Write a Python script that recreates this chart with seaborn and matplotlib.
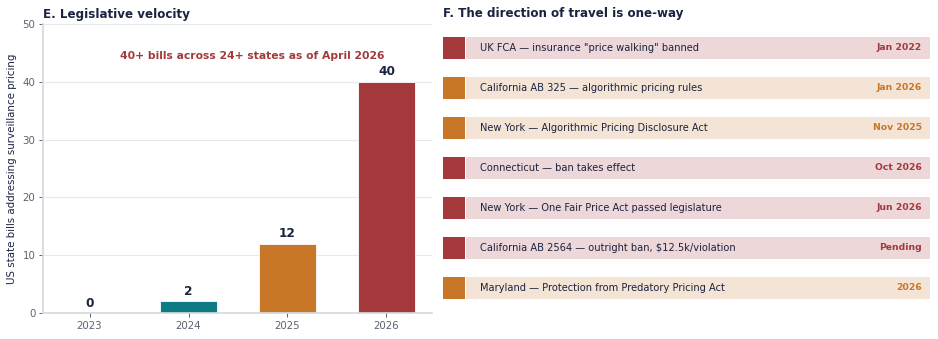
import matplotlib
matplotlib.use("Agg")
import matplotlib.pyplot as plt
import seaborn as sns
import pandas as pd

# ---- data ----
years = ["2023", "2024", "2025", "2026"]
bills = [0, 2, 12, 40]
bar_colors = ["#0E7A84", "#0E7A84", "#C87628", "#A3393A"]

events = [
    'UK FCA — insurance "price walking" banned',
    "California AB 325 — algorithmic pricing rules",
    "New York — Algorithmic Pricing Disclosure Act",
    "Connecticut — ban takes effect",
    "New York — One Fair Price Act passed legislature",
    "California AB 2564 — outright ban, $12.5k/violation",
    "Maryland — Protection from Predatory Pricing Act",
]
dates = ["Jan 2022", "Jan 2026", "Nov 2025", "Oct 2026", "Jun 2026", "Pending", "2026"]
kinds = ["red", "orange", "orange", "red", "red", "red", "orange"]

strong = {"red": "#A3393A", "orange": "#C87628"}
light = {"red": "#EDD7D8", "orange": "#F4E4D5"}

NAVY = "#1A2340"
GRAY = "#5A6272"

sns.set_theme(style="white")
plt.rcParams["font.family"] = ["DejaVu Sans"]

fig = plt.figure(figsize=(9.38, 3.39), dpi=100)

# ---- left panel ----
ax = fig.add_axes([43 / 938, 1 - 313 / 339, 389 / 938, 289 / 339])
df = pd.DataFrame({"year": years, "bills": bills})
sns.barplot(data=df, x="year", y="bills", hue="year", palette=bar_colors,
            legend=False, width=0.58, ax=ax, saturation=1,
            edgecolor="white", linewidth=0.6)
ax.set_ylim(0, 50)
ax.set_xlim(-0.47, 3.46)
ax.set_yticks([0, 10, 20, 30, 40, 50])
ax.yaxis.grid(True, color="#E6EAEE", linewidth=0.8)
ax.set_axisbelow(True)
for s in ["top", "right"]:
    ax.spines[s].set_visible(False)
for s in ["left", "bottom"]:
    ax.spines[s].set_color("#D5DAE0")
ax.tick_params(axis="both", colors=GRAY, labelsize=7.4, length=3, width=0.7,
               left=True, bottom=True, pad=2.5)
ax.set_xlabel("")
ax.set_ylabel("US state bills addressing surveillance pricing", fontsize=7.4,
              color=NAVY, labelpad=4)
ax.set_title("E. Legislative velocity", loc="left", fontsize=8.6, fontweight="bold",
             color=NAVY, pad=4)
for i, v in enumerate(bills):
    ax.text(i, v + 0.6, str(v), ha="center", va="bottom", fontsize=8.7,
            fontweight="bold", color=NAVY)
ax.text(1.64, 44.5, "40+ bills across 24+ states as of April 2026", ha="center",
        va="center", fontsize=7.75, fontweight="bold", color="#A3393A")

# ---- right panel ----
ax2 = fig.add_axes([443 / 938, 1 - 313 / 339, 487 / 938, 289 / 339])
ax2.set_xlim(0, 487)
ax2.set_ylim(6.625, -0.6)
ax2.axis("off")
n = len(events)
rows = list(range(n))
ax2.barh(rows, [464] * n, left=23, height=0.55,
         color=[light[k] for k in kinds], linewidth=0)
ax2.barh(rows, [22] * n, left=0, height=0.55,
         color=[strong[k] for k in kinds], linewidth=0)
for i in rows:
    ax2.text(37, i, events[i], ha="left", va="center", fontsize=7.1, color=NAVY)
    ax2.text(479, i, dates[i], ha="right", va="center", fontsize=6.7,
             fontweight="bold", color=strong[kinds[i]])
fig.text(443 / 938, 1 - 14 / 339, "F. The direction of travel is one-way",
         ha="left", va="center", fontsize=8.6, fontweight="bold", color=NAVY)

fig.savefig("out.png", dpi=100, facecolor="white")
